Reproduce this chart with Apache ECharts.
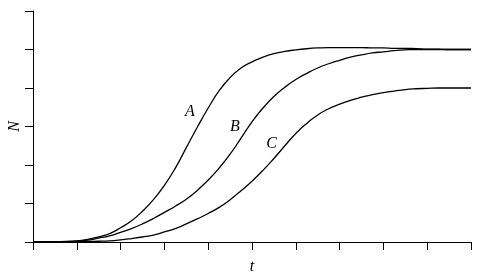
<!DOCTYPE html>
<html>
<head>
<meta charset="utf-8">
<script src="https://cdn.jsdelivr.net/npm/echarts@6/dist/echarts.min.js"></script>
<style>html,body{margin:0;padding:0;background:#fff}#c{width:482px;height:274px}</style>
</head>
<body>
<div id="c"></div>
<script>
var tValues = [0, 0.25, 0.5, 0.75, 1, 1.25, 1.5, 1.75, 2, 2.25, 2.5, 2.75, 3, 3.25, 3.5, 3.75, 4, 4.25, 4.5, 4.75, 5,
  5.25, 5.5, 5.75, 6, 6.25, 6.5, 6.75, 7, 7.25, 7.5, 7.75, 8, 8.25, 8.5, 8.75, 9, 9.25, 9.5, 9.75, 10];
var curveA = [0, 0, 0.005, 0.015, 0.03, 0.07, 0.13, 0.22, 0.37, 0.55, 0.8, 1.1, 1.47, 1.92, 2.45, 2.98, 3.48, 3.93, 4.27, 4.52, 4.68,
  4.8, 4.89, 4.95, 4.99, 5.02, 5.04, 5.05, 5.05, 5.05, 5.05, 5.04, 5.04, 5.03, 5.03, 5.02, 5.01, 5.01, 5.0, 5.0, 5.0];
var curveB = [0, 0, 0.004, 0.012, 0.025, 0.05, 0.1, 0.16, 0.25, 0.35, 0.47, 0.61, 0.77, 0.93, 1.11, 1.34, 1.61, 1.92, 2.28, 2.7, 3.12,
  3.48, 3.78, 4.02, 4.22, 4.38, 4.52, 4.63, 4.72, 4.8, 4.86, 4.91, 4.94, 4.97, 4.99, 5.0, 5.0, 5.0, 5.0, 5.0, 5.0];
var curveC = [0, 0, 0.002, 0.005, 0.008, 0.013, 0.02, 0.03, 0.055, 0.09, 0.13, 0.18, 0.26, 0.35, 0.47, 0.6, 0.74, 0.9, 1.1, 1.33, 1.58,
  1.86, 2.17, 2.5, 2.82, 3.08, 3.3, 3.46, 3.58, 3.68, 3.76, 3.83, 3.88, 3.92, 3.96, 3.98, 3.99, 4.0, 4.0, 4.0, 4.0];
var curveNames = ['A', 'B', 'C'];
var labelPos = [[3.58, 3.37], [4.61, 2.99], [5.45, 2.56]];
var xAxisName = 't';
var yAxisName = 'N';

function pairs(ys) { return tValues.map(function (t, i) { return [t, ys[i]]; }); }
var curves = [curveA, curveB, curveC];
var series = curves.map(function (ys, k) {
  return {
    type: 'line', name: curveNames[k], data: pairs(ys), smooth: 0.5, showSymbol: false,
    lineStyle: { color: '#000', width: 1.3 }, silent: true,
    markPoint: {
      symbol: 'circle', symbolSize: 0,
      data: [{ coord: labelPos[k], value: curveNames[k] }],
      label: { show: true, position: 'inside', formatter: curveNames[k], color: '#000',
        fontFamily: 'Liberation Serif', fontStyle: 'italic', fontSize: 16 }
    }
  };
});

var axisCommon = {
  axisLine: { show: true, lineStyle: { color: '#000', width: 1 } },
  axisTick: { show: true, inside: false, length: 8, lineStyle: { color: '#000', width: 1 } },
  axisLabel: { show: false },
  splitLine: { show: false },
  nameTextStyle: { fontFamily: 'Liberation Serif', fontStyle: 'italic', fontSize: 16, color: '#000' }
};
var chart = echarts.init(document.getElementById('c'), null, { renderer: 'canvas' });
chart.setOption({
  animation: false,
  backgroundColor: '#fff',
  grid: { left: 33, right: 11, top: 11, bottom: 32, containLabel: false, outerBoundsMode: 'none' },
  xAxis: Object.assign({ type: 'value', min: 0, max: 10, interval: 1, name: xAxisName,
    nameLocation: 'middle', nameGap: 17 }, axisCommon),
  yAxis: Object.assign({ type: 'value', min: 0, max: 6, interval: 1, name: yAxisName,
    nameLocation: 'middle', nameGap: 10, nameRotate: 90 }, axisCommon),
  series: series
});
</script>
</body>
</html>
